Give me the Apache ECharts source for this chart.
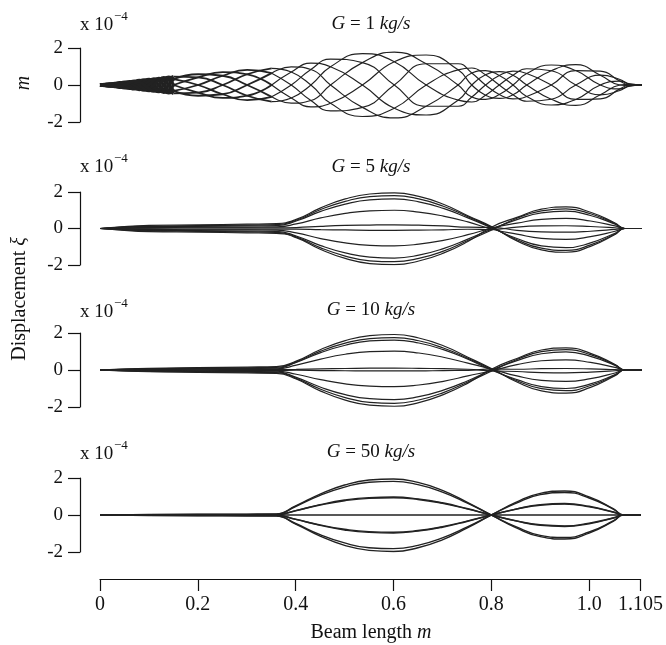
<!DOCTYPE html>
<html><head><meta charset="utf-8">
<script src="https://cdn.jsdelivr.net/npm/echarts@6/dist/echarts.min.js"></script>
<style>html,body{margin:0;padding:0;background:#fff}#c{width:666px;height:645px}</style>
</head><body><div id="c"></div>
<script>
const FONT = '"Liberation Serif","Times New Roman",serif';

// ---- Panel 1 : G = 1 kg/s (travelling-wave snapshots), x in m, y in 1e-4 m
const xG1 = [0,0.01,0.02,0.03,0.04,0.05,0.06,0.07,0.08,0.09,0.10,0.11,0.12,0.13,0.14,0.15,
  0.20,0.25,0.30,0.35, 0.39,0.43,0.47, 0.535,0.60,0.665,0.73,
  0.758,0.786,0.814,0.842,0.87, 0.92,0.97,1.02,1.06,1.08,1.105];
const g1Curves = [
 [0,.02,0,-.06,-.12,-.11,0,.15, .24,.19,0,-.23,-.36,-.28,0,.32, .58,.50,0,-.64,-.98,-.84,0,1.21, 1.78,1.15,0,-.65,-.78,-.51,0,.62, 1.08,.78,0,-.21,-.06,0],
 [0,.03,.04,0,-.09,-.15,-.13,0, .17,.27,.21,0,-.26,-.39,-.30,0, .41,.70,.58,0,-.70,-1.18,-.99,0, 1.26,1.62,.82,0,-.55,-.72,-.53,0, .77,1.10,.53,0,-.04,0],
 [0,.02,.06,.06,0,-.11,-.18,-.15, 0,.19,.30,.23,0,-.28,-.42,-.32, 0,.50,.82,.64,0,-.84,-1.40,-1.21, 0,1.15,1.15,.65,0,-.51,-.75,-.62, 0,.78,.75,.21,0,0],
 [0,0,.04,.09,.09,0,-.13,-.21, -.17,0,.21,.33,.26,0,-.30,-.45, -.41,0,.58,.90,.70,0,-.99,-1.70, -1.26,0,.82,.92,.55,0,-.53,-.88, -.77,0,.53,.30,.04,0],
 [0,-.02,0,.06,.12,.11,0,-.15, -.24,-.19,0,.23,.36,.28,0,-.32, -.58,-.50,0,.64,.98,.84,0,-1.21, -1.78,-1.15,0,.65,.78,.51,0,-.62, -1.08,-.78,0,.21,.06,0],
 [0,-.03,-.04,0,.09,.15,.13,0, -.17,-.27,-.21,0,.26,.39,.30,0, -.41,-.70,-.58,0,.70,1.18,.99,0, -1.26,-1.62,-.82,0,.55,.72,.53,0, -.77,-1.10,-.53,0,.04,0],
 [0,-.02,-.06,-.06,0,.11,.18,.15, 0,-.19,-.30,-.23,0,.28,.42,.32, 0,-.50,-.82,-.64,0,.84,1.40,1.21, 0,-1.15,-1.15,-.65,0,.51,.75,.62, 0,-.78,-.75,-.21,0,0],
 [0,0,-.04,-.09,-.09,0,.13,.21, .17,0,-.21,-.33,-.26,0,.30,.45, .41,0,-.58,-.90,-.70,0,.99,1.70, 1.26,0,-.82,-.92,-.55,0,.53,.88, .77,0,-.53,-.30,-.04,0]
];
const g1WedgeEnd = 15;   // index of x = 0.15 : end of the dense dark wedge
const g1StreakEnd = 19;  // index of x = 0.35 : end of the streaky dark zone

// ---- Panels 2-4 : standing-mode snapshots, common sample positions
const xMode = [0,0.03,0.1,0.2,0.3,0.36,0.40,0.45,0.50,0.55,0.60,0.65,0.70,0.75,0.80,0.85,0.90,0.95,1.00,1.05,1.07,1.105];
const g5Curves = [
 [0,.06,.17,.20,.24,.27,.50,1.13,1.62,1.89,1.95,1.76,1.33,.70,.08,-.68,-1.17,-1.30,-.98,-.33,0,0],
 [0,.05,.13,.16,.19,.21,.45,1.04,1.49,1.75,1.80,1.62,1.22,.65,.05,-.62,-1.08,-1.20,-.90,-.30,0,0],
 [0,.04,.10,.12,.14,.16,.41,.94,1.34,1.57,1.62,1.46,1.10,.58,.02,-.55,-.95,-1.05,-.79,-.26,0,0],
 [0,.02,.06,.07,.08,.09,.25,.58,.83,.97,1.00,.90,.68,.36,-.04,-.31,-.54,-.60,-.45,-.15,0,0],
 [0,.01,.02,.03,.03,.03,.05,.12,.17,.19,.20,.18,.14,.07,.06,-.10,-.18,-.20,-.15,-.05,0,0],
 [0,-.01,-.02,-.03,-.03,-.03,-.03,-.06,-.08,-.10,-.10,-.09,-.07,-.04,-.06,.08,.14,.15,.11,.04,0,0],
 [0,-.02,-.06,-.07,-.08,-.09,-.24,-.55,-.79,-.92,-.95,-.86,-.65,-.34,.03,.29,.50,.55,.41,.14,0,0],
 [0,-.04,-.10,-.12,-.14,-.16,-.41,-.94,-1.34,-1.57,-1.62,-1.46,-1.10,-.58,-.02,.49,.86,.95,.71,.24,0,0],
 [0,-.05,-.13,-.16,-.19,-.21,-.46,-1.06,-1.51,-1.77,-1.82,-1.64,-1.24,-.66,-.07,.56,.97,1.08,.81,.27,0,0],
 [0,-.06,-.17,-.20,-.24,-.27,-.50,-1.15,-1.64,-1.92,-1.98,-1.78,-1.35,-.71,.10,.61,1.06,1.18,.89,.30,0,0]
];
const g10Curves = [
 [0,.03,.09,.13,.16,.18,.48,1.11,1.59,1.86,1.92,1.73,1.31,.69,.05,-.65,-1.13,-1.25,-.94,-.31,0,0],
 [0,.02,.07,.10,.12,.14,.44,1.02,1.45,1.70,1.75,1.58,1.19,.63,.02,-.58,-1.01,-1.12,-.84,-.28,0,0],
 [0,.02,.05,.07,.09,.10,.41,.94,1.34,1.57,1.62,1.46,1.10,.58,-.03,-.52,-.90,-1.00,-.75,-.25,0,0],
 [0,.01,.03,.04,.05,.06,.26,.59,.85,.99,1.02,.92,.69,.37,.04,-.32,-.56,-.62,-.47,-.16,0,0],
 [0,0,.01,.01,.02,.02,.03,.06,.08,.10,.10,.09,.07,.04,-.05,-.08,-.14,-.15,-.11,-.04,0,0],
 [0,0,-.01,-.01,-.02,-.02,-.01,-.03,-.04,-.05,-.05,-.05,-.03,-.02,.06,.04,.07,.08,.06,.02,0,0],
 [0,-.01,-.03,-.04,-.05,-.06,-.23,-.52,-.75,-.87,-.90,-.81,-.61,-.32,-.03,.29,.50,.55,.41,.14,0,0],
 [0,-.02,-.05,-.07,-.09,-.10,-.40,-.93,-1.33,-1.55,-1.60,-1.44,-1.09,-.58,.02,.51,.88,.98,.74,.25,0,0],
 [0,-.02,-.07,-.10,-.12,-.14,-.45,-1.04,-1.49,-1.75,-1.80,-1.62,-1.22,-.65,-.04,.57,.99,1.10,.83,.28,0,0],
 [0,-.03,-.09,-.13,-.16,-.18,-.49,-1.14,-1.63,-1.90,-1.96,-1.76,-1.33,-.71,.07,.62,1.08,1.20,.90,.30,0,0]
];
const g50Curves = [
 [0,.01,.03,.04,.05,.06,.49,1.13,1.62,1.89,1.95,1.76,1.33,.70,0,-.68,-1.17,-1.30,-.98,-.33,0,0],
 [0,.01,.02,.03,.03,.04,.46,1.06,1.51,1.77,1.82,1.64,1.24,.66,0,-.63,-1.10,-1.22,-.92,-.31,0,0],
 [0,0,.01,.02,.02,.02,.24,.56,.81,.94,.97,.87,.66,.35,0,-.32,-.56,-.62,-.47,-.16,0,0],
 [0,0,.01,.01,.01,.01,.23,.54,.77,.90,.93,.84,.63,.33,0,-.31,-.53,-.59,-.44,-.15,0,0],
 [0,0,0,0,0,0,0,0,0,0,0,0,0,0,0,0,0,0,0,0,0,0],
 [0,0,-.01,-.01,-.01,-.01,-.23,-.54,-.77,-.90,-.93,-.84,-.63,-.33,0,.31,.53,.59,.44,.15,0,0],
 [0,0,-.01,-.02,-.02,-.02,-.24,-.56,-.81,-.94,-.97,-.87,-.66,-.35,0,.32,.56,.62,.47,.16,0,0],
 [0,-.01,-.02,-.03,-.03,-.04,-.46,-1.06,-1.51,-1.77,-1.82,-1.64,-1.24,-.66,0,.63,1.10,1.22,.92,.31,0,0],
 [0,-.01,-.03,-.04,-.05,-.06,-.49,-1.14,-1.64,-1.91,-1.97,-1.77,-1.34,-.71,0,.68,1.17,1.30,.98,.33,0,0]
];

const flowRates = ['1','5','10','50'];
const xTickValues = [0,0.2,0.4,0.6,0.8,1.0,1.105];
const xTickLabels = ['0','0.2','0.4','0.6','0.8','1.0','1.105'];

// ---- layout
const gridTops = [48,192,333,478];
const gridHeights = [74,73,74,74];
const titleY = [24,167,310,452];
const sciY = [25,167,312,454];
const INK = '#111';
const LINE = '#222';

function lineSeries(i, xs, ys, w, smooth){
  return {type:'line', xAxisIndex:i, yAxisIndex:i, data:xs.map((x,j)=>[x,ys[j]]),
    symbol:'none', showSymbol:false, smooth:smooth, silent:true, animation:false,
    lineStyle:{color:LINE, width:w}};
}
const series = [];
g1Curves.forEach(ys=>{
  series.push(lineSeries(0, xG1.slice(0,g1WedgeEnd+1), ys.slice(0,g1WedgeEnd+1), 3.4, 0.5));
  series.push(lineSeries(0, xG1.slice(g1WedgeEnd,g1StreakEnd+1), ys.slice(g1WedgeEnd,g1StreakEnd+1), 1.8, 0.5));
  series.push(lineSeries(0, xG1.slice(g1StreakEnd), ys.slice(g1StreakEnd), 1.15, 0.5));
});
[[g5Curves,1.2],[g10Curves,1.2],[g50Curves,1.4]].forEach(([cs,w],k)=>{
  cs.forEach(ys=>series.push(lineSeries(k+1, xMode, ys, w, 0.5)));
});

const xAxes = gridTops.map((t,i)=>{
  if(i<3) return {type:'value', gridIndex:i, min:0, max:1.105, show:false};
  return {type:'value', gridIndex:i, min:0, max:1.105, offset:27,
    axisLine:{show:true, onZero:false, lineStyle:{color:INK, width:1.2}},
    axisTick:{show:true, inside:false, length:12, customValues:xTickValues, lineStyle:{color:INK, width:1.2}},
    axisLabel:{show:true, customValues:xTickValues, margin:16, fontFamily:FONT, fontSize:20, color:INK,
      formatter:v=>{const k=xTickValues.findIndex(t=>Math.abs(t-v)<1e-6); return k>=0?xTickLabels[k]:'';}},
    splitLine:{show:false}};
});
const yAxes = gridTops.map((t,i)=>({type:'value', gridIndex:i, min:-2, max:2, interval:2, offset:20,
  axisLine:{show:true, onZero:false, lineStyle:{color:INK, width:1.2}},
  axisTick:{show:true, inside:false, length:12, lineStyle:{color:INK, width:1.2}},
  axisLabel:{show:true, margin:17, fontFamily:FONT, fontSize:19, color:INK},
  splitLine:{show:false}}));

const it = {fontStyle:'italic', fontFamily:FONT, fontSize:19, fill:INK};
const graphic = [];
flowRates.forEach((g,i)=>{
  graphic.push({type:'text', x:371, y:titleY[i], silent:true, style:{text:'{i|G} = '+g+' {i|kg/s}', rich:{i:it},
    fontFamily:FONT, fontSize:19, fill:INK, align:'center', verticalAlign:'middle'}});
  graphic.push({type:'text', x:80, y:sciY[i], silent:true, style:{text:'x 10', fontFamily:FONT, fontSize:19, fill:INK, align:'left', verticalAlign:'middle'}});
  graphic.push({type:'text', x:114, y:sciY[i]-8, silent:true, style:{text:'\u22124', fontFamily:FONT, fontSize:13, fill:INK, align:'left', verticalAlign:'middle'}});
});
graphic.push({type:'text', x:20, y:299, rotation:Math.PI/2, silent:true, style:{text:'Displacement {i|\u03BE}', rich:{i:Object.assign({},it,{fontSize:20})},
  fontFamily:FONT, fontSize:20, fill:INK, align:'center', verticalAlign:'middle'}});
graphic.push({type:'text', x:24, y:83, rotation:Math.PI/2, silent:true, style:{text:'m', fontStyle:'italic', fontFamily:FONT, fontSize:20, fill:INK, align:'center', verticalAlign:'middle'}});
graphic.push({type:'text', x:371, y:633, silent:true, style:{text:'Beam length {i|m}', rich:{i:Object.assign({},it,{fontSize:20})},
  fontFamily:FONT, fontSize:20, fill:INK, align:'center', verticalAlign:'middle'}});

const chart = echarts.init(document.getElementById('c'), null, {renderer:'canvas'});
chart.setOption({
  animation:false,
  backgroundColor:'#fff',
  grid: gridTops.map((t,i)=>({left:100, right:24, top:t, height:gridHeights[i]})),
  xAxis: xAxes, yAxis: yAxes, series, graphic
});
</script></body></html>
